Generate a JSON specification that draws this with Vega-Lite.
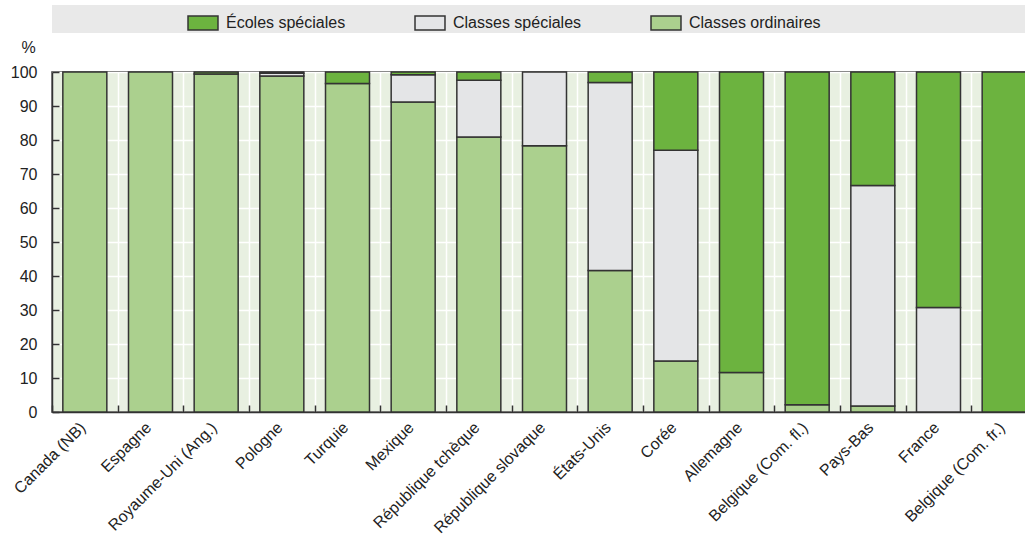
{
  "$schema": "https://vega.github.io/schema/vega-lite/v6.json",
  "width": 973,
  "height": 340,
  "autosize": {"type": "none"},
  "padding": {"left": 52, "top": 72, "right": 0, "bottom": 126},
  "background": "white",
  "config": {
    "font": "Liberation Sans, Arial, sans-serif",
    "view": {"fill": "#e8f0e1", "stroke": "#333333", "strokeWidth": 1.5}
  },
  "data": {
    "values": [
      {"pays": "Canada (NB)", "type": "Classes ordinaires", "valeur": 100},
      {"pays": "Espagne", "type": "Classes ordinaires", "valeur": 100},
      {"pays": "Royaume-Uni (Ang.)", "type": "Classes ordinaires", "valeur": 99.4},
      {"pays": "Royaume-Uni (Ang.)", "type": "Écoles spéciales", "valeur": 0.6},
      {"pays": "Pologne", "type": "Classes ordinaires", "valeur": 98.8},
      {"pays": "Pologne", "type": "Classes spéciales", "valeur": 0.8},
      {"pays": "Pologne", "type": "Écoles spéciales", "valeur": 0.4},
      {"pays": "Turquie", "type": "Classes ordinaires", "valeur": 96.6},
      {"pays": "Turquie", "type": "Écoles spéciales", "valeur": 3.4},
      {"pays": "Mexique", "type": "Classes ordinaires", "valeur": 91.2},
      {"pays": "Mexique", "type": "Classes spéciales", "valeur": 8.0},
      {"pays": "Mexique", "type": "Écoles spéciales", "valeur": 0.8},
      {"pays": "République tchèque", "type": "Classes ordinaires", "valeur": 80.9},
      {"pays": "République tchèque", "type": "Classes spéciales", "valeur": 16.7},
      {"pays": "République tchèque", "type": "Écoles spéciales", "valeur": 2.4},
      {"pays": "République slovaque", "type": "Classes ordinaires", "valeur": 78.3},
      {"pays": "République slovaque", "type": "Classes spéciales", "valeur": 21.7},
      {"pays": "États-Unis", "type": "Classes ordinaires", "valeur": 41.6},
      {"pays": "États-Unis", "type": "Classes spéciales", "valeur": 55.3},
      {"pays": "États-Unis", "type": "Écoles spéciales", "valeur": 3.1},
      {"pays": "Corée", "type": "Classes ordinaires", "valeur": 15.0},
      {"pays": "Corée", "type": "Classes spéciales", "valeur": 62.0},
      {"pays": "Corée", "type": "Écoles spéciales", "valeur": 23.0},
      {"pays": "Allemagne", "type": "Classes ordinaires", "valeur": 11.6},
      {"pays": "Allemagne", "type": "Écoles spéciales", "valeur": 88.4},
      {"pays": "Belgique (Com. fl.)", "type": "Classes ordinaires", "valeur": 2.1},
      {"pays": "Belgique (Com. fl.)", "type": "Écoles spéciales", "valeur": 97.9},
      {"pays": "Pays-Bas", "type": "Classes ordinaires", "valeur": 1.8},
      {"pays": "Pays-Bas", "type": "Classes spéciales", "valeur": 64.8},
      {"pays": "Pays-Bas", "type": "Écoles spéciales", "valeur": 33.4},
      {"pays": "France", "type": "Classes spéciales", "valeur": 30.7},
      {"pays": "France", "type": "Écoles spéciales", "valeur": 69.3},
      {"pays": "Belgique (Com. fr.)", "type": "Écoles spéciales", "valeur": 100}
    ]
  },
  "mark": {"type": "bar", "width": {"band": 0.67}, "stroke": "#333333", "strokeWidth": 1.5},
  "encoding": {
    "x": {
      "field": "pays",
      "type": "nominal",
      "sort": ["Canada (NB)", "Espagne", "Royaume-Uni (Ang.)", "Pologne", "Turquie", "Mexique", "République tchèque", "République slovaque", "États-Unis", "Corée", "Allemagne", "Belgique (Com. fl.)", "Pays-Bas", "France", "Belgique (Com. fr.)"],
      "scale": {"range": [0, 985], "paddingInner": 0, "paddingOuter": 0},
      "axis": {
        "title": null,
        "tickBand": "extent",
        "grid": true,
        "gridColor": "white",
        "gridWidth": 1.5,
        "tickSize": -7,
        "tickColor": "#333333",
        "tickWidth": 1.5,
        "domainColor": "#333333",
        "domainWidth": 1.5,
        "labelAngle": -45,
        "labelAlign": "right",
        "labelBaseline": "top",
        "labelFontSize": 16,
        "labelColor": "#222222",
        "labelPadding": 14,
        "labelOffset": -8,
        "labelLimit": 300
      }
    },
    "y": {
      "field": "valeur",
      "type": "quantitative",
      "stack": "zero",
      "scale": {"domain": [0, 100], "nice": false},
      "axis": {
        "title": "%",
        "titleAngle": 0,
        "titleX": -24,
        "titleY": -25,
        "titleAlign": "center",
        "titleBaseline": "middle",
        "titleFontSize": 16,
        "titleFontWeight": "normal",
        "titleColor": "#222222",
        "values": [0, 10, 20, 30, 40, 50, 60, 70, 80, 90, 100],
        "grid": true,
        "gridColor": "white",
        "gridWidth": 1.5,
        "tickSize": -7,
        "tickColor": "#333333",
        "tickWidth": 1.5,
        "domainColor": "#333333",
        "domainWidth": 1.5,
        "labelFontSize": 16,
        "labelColor": "#222222",
        "labelPadding": 22
      }
    },
    "order": {"field": "type", "sort": "ascending"},
    "color": {
      "field": "type",
      "type": "nominal",
      "scale": {
        "domain": ["Écoles spéciales", "Classes spéciales", "Classes ordinaires"],
        "range": ["#6cb33f", "#e4e5e7", "#abd08e"]
      },
      "legend": {
        "orient": "none",
        "legendX": 0,
        "legendY": -67,
        "direction": "horizontal",
        "title": "\u200b\u00a0\u00a0\u00a0\u00a0\u00a0\u00a0\u00a0\u00a0\u00a0\u00a0\u00a0\u00a0\u00a0\u00a0\u00a0\u00a0\u00a0\u00a0\u00a0\u00a0\u00a0\u00a0\u00a0\u00a0\u00a0\u00a0\u00a0\u00a0\u00a0\u00a0\u00a0\u00a0\u00a0\u00a0\u00a0\u00a0\u00a0\u00a0\u200b",
        "titleOrient": "left",
        "titleFont": "DejaVu Sans",
        "titleFontSize": 10,
        "titlePadding": 0,
        "titleLimit": 400,
        "fillColor": "#e9e9e9",
        "padding": 0,
        "columnPadding": 66,
        "symbolType": "M-0.882,-0.41H0.882V0.41H-0.882Z",
        "symbolSize": 1156,
        "symbolStrokeColor": "#333333",
        "symbolStrokeWidth": 1.5,
        "symbolOpacity": 1,
        "labelFontSize": 16,
        "labelColor": "#222222",
        "labelOffset": 5,
        "labelLimit": 600,
        "labelExpr": "datum.label == 'Classes ordinaires' ? datum.label + '\u00a0\u00a0\u00a0\u00a0\u00a0\u00a0\u00a0\u00a0\u00a0\u00a0\u00a0\u00a0\u00a0\u00a0\u00a0\u00a0\u00a0\u00a0\u00a0\u00a0\u00a0\u00a0\u00a0\u00a0\u00a0\u00a0\u00a0\u00a0\u00a0\u00a0\u00a0\u00a0\u00a0\u00a0\u00a0\u00a0\u00a0\u00a0\u00a0\u00a0\u00a0\u00a0\u00a0\u00a0\u00a0\u00a0\u00a0\u00a0\u200b' : datum.label"
      }
    }
  }
}
